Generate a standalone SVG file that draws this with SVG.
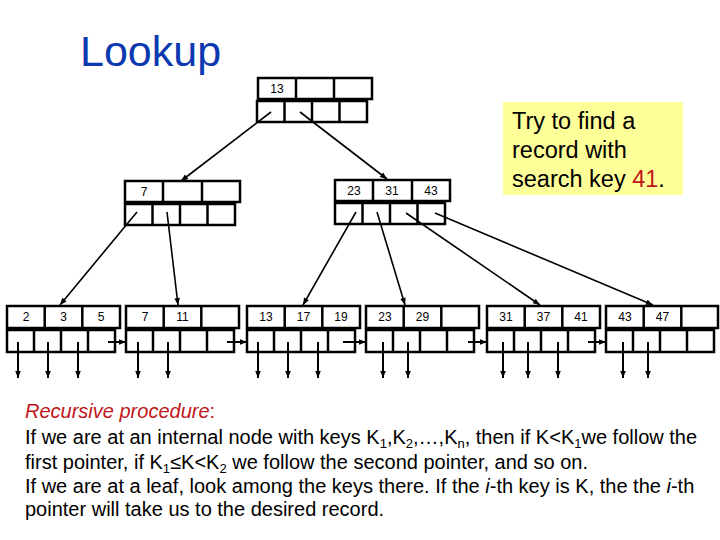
<svg xmlns="http://www.w3.org/2000/svg" width="720" height="540" viewBox="0 0 720 540">
<style>
.box{fill:#fff;stroke:#000;stroke-width:2.5}
.div{stroke:#000;stroke-width:2.5}
.k{font-family:"Liberation Sans",Arial,sans-serif;font-size:12px;text-anchor:middle;fill:#000}
.tl{stroke:#000;stroke-width:1.6;fill:none}
.da{stroke:#000;stroke-width:2;fill:none}
.txt{font-family:"Liberation Sans",Arial,sans-serif;font-size:20px;fill:#000}
</style>
<defs>
<marker id="ah" viewBox="0 0 10 10" refX="10" refY="5" markerWidth="8" markerHeight="7" markerUnits="userSpaceOnUse" orient="auto"><path d="M0,1 L10,5 L0,9 z" fill="#000"/></marker>
</defs>
<rect width="720" height="540" fill="#fff"/>
<text x="80" y="66" font-family="'Liberation Sans',Arial,sans-serif" font-size="43" fill="#0c39b0">Lookup</text>

<g id="root">
<rect class="box" x="258" y="78" width="114" height="21"/>
<line class="div" x1="296" y1="78" x2="296" y2="99"/><line class="div" x1="334" y1="78" x2="334" y2="99"/>
<rect class="box" x="257" y="101" width="110" height="21"/>
<line class="div" x1="284.5" y1="101" x2="284.5" y2="122"/><line class="div" x1="312" y1="101" x2="312" y2="122"/><line class="div" x1="339.5" y1="101" x2="339.5" y2="122"/>
<text class="k" x="277" y="93">13</text>
</g>

<g id="int-left">
<rect class="box" x="125" y="181" width="115" height="21"/>
<line class="div" x1="163" y1="181" x2="163" y2="202"/><line class="div" x1="202" y1="181" x2="202" y2="202"/>
<rect class="box" x="125" y="204" width="110" height="21"/>
<line class="div" x1="152.5" y1="204" x2="152.5" y2="225"/><line class="div" x1="180" y1="204" x2="180" y2="225"/><line class="div" x1="207.5" y1="204" x2="207.5" y2="225"/>
<text class="k" x="144" y="196">7</text>
</g>

<g id="int-right">
<rect class="box" x="335" y="180" width="115" height="21"/>
<line class="div" x1="373" y1="180" x2="373" y2="201"/><line class="div" x1="412" y1="180" x2="412" y2="201"/>
<rect class="box" x="335" y="203" width="110" height="21"/>
<line class="div" x1="362.5" y1="203" x2="362.5" y2="224"/><line class="div" x1="390" y1="203" x2="390" y2="224"/><line class="div" x1="417.5" y1="203" x2="417.5" y2="224"/>
<text class="k" x="354" y="195">23</text><text class="k" x="392" y="195">31</text><text class="k" x="431" y="195">43</text>
</g>

<g id="leaf1">
<rect class="box" x="7" y="306" width="113" height="22"/>
<line class="div" x1="44.7" y1="306" x2="44.7" y2="328"/><line class="div" x1="82.3" y1="306" x2="82.3" y2="328"/>
<rect class="box" x="7" y="330" width="108" height="22"/>
<line class="div" x1="34" y1="330" x2="34" y2="352"/><line class="div" x1="61" y1="330" x2="61" y2="352"/><line class="div" x1="88" y1="330" x2="88" y2="352"/>
<text class="k" x="26" y="321">2</text><text class="k" x="63.5" y="321">3</text><text class="k" x="101" y="321">5</text>
</g>
<g id="leaf2">
<rect class="box" x="126" y="306" width="113" height="22"/>
<line class="div" x1="163.7" y1="306" x2="163.7" y2="328"/><line class="div" x1="201.3" y1="306" x2="201.3" y2="328"/>
<rect class="box" x="126" y="330" width="108" height="22"/>
<line class="div" x1="153" y1="330" x2="153" y2="352"/><line class="div" x1="180" y1="330" x2="180" y2="352"/><line class="div" x1="207" y1="330" x2="207" y2="352"/>
<text class="k" x="145" y="321">7</text><text class="k" x="182.5" y="321">11</text>
</g>
<g id="leaf3">
<rect class="box" x="247" y="306" width="113" height="22"/>
<line class="div" x1="284.7" y1="306" x2="284.7" y2="328"/><line class="div" x1="322.3" y1="306" x2="322.3" y2="328"/>
<rect class="box" x="247" y="330" width="108" height="22"/>
<line class="div" x1="274" y1="330" x2="274" y2="352"/><line class="div" x1="301" y1="330" x2="301" y2="352"/><line class="div" x1="328" y1="330" x2="328" y2="352"/>
<text class="k" x="266" y="321">13</text><text class="k" x="303.5" y="321">17</text><text class="k" x="341" y="321">19</text>
</g>
<g id="leaf4">
<rect class="box" x="366" y="306" width="113" height="22"/>
<line class="div" x1="403.7" y1="306" x2="403.7" y2="328"/><line class="div" x1="441.3" y1="306" x2="441.3" y2="328"/>
<rect class="box" x="366" y="330" width="108" height="22"/>
<line class="div" x1="393" y1="330" x2="393" y2="352"/><line class="div" x1="420" y1="330" x2="420" y2="352"/><line class="div" x1="447" y1="330" x2="447" y2="352"/>
<text class="k" x="385" y="321">23</text><text class="k" x="422.5" y="321">29</text>
</g>
<g id="leaf5">
<rect class="box" x="487" y="306" width="113" height="22"/>
<line class="div" x1="524.7" y1="306" x2="524.7" y2="328"/><line class="div" x1="562.3" y1="306" x2="562.3" y2="328"/>
<rect class="box" x="487" y="330" width="108" height="22"/>
<line class="div" x1="514" y1="330" x2="514" y2="352"/><line class="div" x1="541" y1="330" x2="541" y2="352"/><line class="div" x1="568" y1="330" x2="568" y2="352"/>
<text class="k" x="506" y="321">31</text><text class="k" x="543.5" y="321">37</text><text class="k" x="581" y="321">41</text>
</g>
<g id="leaf6">
<rect class="box" x="606" y="306" width="112" height="22"/>
<line class="div" x1="643.7" y1="306" x2="643.7" y2="328"/><line class="div" x1="681.3" y1="306" x2="681.3" y2="328"/>
<rect class="box" x="606" y="330" width="108" height="22"/>
<line class="div" x1="633" y1="330" x2="633" y2="352"/><line class="div" x1="660" y1="330" x2="660" y2="352"/><line class="div" x1="687" y1="330" x2="687" y2="352"/>
<text class="k" x="625" y="321">43</text><text class="k" x="662.5" y="321">47</text>
</g>

<g id="connectors">
<line class="tl" x1="271" y1="112" x2="181" y2="181" marker-end="url(#ah)"/>
<line class="tl" x1="300" y1="112" x2="387" y2="179" marker-end="url(#ah)"/>
<line class="tl" x1="137" y1="212" x2="60" y2="305" marker-end="url(#ah)"/>
<line class="tl" x1="167" y1="212" x2="178" y2="305" marker-end="url(#ah)"/>
<line class="tl" x1="356" y1="212" x2="303" y2="305" marker-end="url(#ah)"/>
<line class="tl" x1="377" y1="212" x2="405" y2="305" marker-end="url(#ah)"/>
<line class="tl" x1="406" y1="213" x2="540" y2="305" marker-end="url(#ah)"/>
<line class="tl" x1="435" y1="213" x2="653" y2="305" marker-end="url(#ah)"/>
<g class="da" marker-end="url(#ah)">
<line x1="18" y1="342" x2="18" y2="378"/><line x1="48" y1="342" x2="48" y2="378"/><line x1="78" y1="342" x2="78" y2="378"/>
<line x1="138" y1="342" x2="138" y2="378"/><line x1="168" y1="342" x2="168" y2="378"/>
<line x1="258" y1="342" x2="258" y2="378"/><line x1="288" y1="342" x2="288" y2="378"/><line x1="318" y1="342" x2="318" y2="378"/>
<line x1="383" y1="342" x2="383" y2="378"/><line x1="408" y1="342" x2="408" y2="378"/>
<line x1="503" y1="342" x2="503" y2="378"/><line x1="528" y1="342" x2="528" y2="378"/><line x1="558" y1="342" x2="558" y2="378"/>
<line x1="623" y1="342" x2="623" y2="378"/><line x1="648" y1="342" x2="648" y2="378"/>
<line x1="108" y1="342" x2="126" y2="342"/>
<line x1="227" y1="342" x2="247" y2="342"/>
<line x1="343" y1="342" x2="366" y2="342"/>
<line x1="468" y1="342" x2="487" y2="342"/>
<line x1="588" y1="342" x2="606" y2="342"/>
</g>
</g>

<g id="note">
<rect x="503" y="102" width="180" height="93" fill="#ffff99"/>
<text font-family="'Liberation Sans',Arial,sans-serif" font-size="23.5" fill="#000">
<tspan x="512" y="129">Try to find a</tspan>
<tspan x="512" y="158">record with</tspan>
<tspan x="512" y="187">search key <tspan fill="#c0141a">41</tspan>.</tspan>
</text>
</g>

<g id="body">
<text class="txt" x="25" y="418" fill="#c0141a"><tspan font-style="italic" fill="#c0141a">Recursive procedure</tspan><tspan fill="#c0141a">:</tspan></text>
<text class="txt" x="25" y="444">If we are at an internal node with keys K<tspan font-size="13" dy="4">1</tspan><tspan dy="-4">,K</tspan><tspan font-size="13" dy="4">2</tspan><tspan dy="-4">,…,K</tspan><tspan font-size="13" dy="4">n</tspan><tspan dy="-4">, then if K&lt;K</tspan><tspan font-size="13" dy="4">1</tspan><tspan dy="-4">we follow the</tspan></text>
<text class="txt" x="25" y="469">first pointer, if K<tspan font-size="13" dy="4">1</tspan><tspan dy="-4">≤K&lt;K</tspan><tspan font-size="13" dy="4">2</tspan><tspan dy="-4"> we follow the second pointer, and so on.</tspan></text>
<text class="txt" x="25" y="493">If we are at a leaf, look among the keys there. If the <tspan font-style="italic">i</tspan>-th key is K, the the <tspan font-style="italic">i</tspan>-th</text>
<text class="txt" x="25" y="516">pointer will take us to the desired record.</text>
</g>
</svg>
